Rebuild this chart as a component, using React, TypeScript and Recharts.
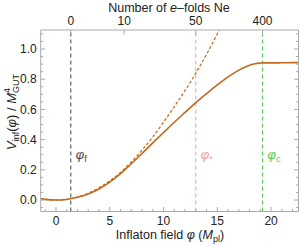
import { LineChart, Line, XAxis, YAxis, ReferenceLine, Label } from 'recharts'

const phiSolid = [-1.42, -1, 0, 1, 2, 3, 4, 5, 6, 7, 8, 9, 10, 11, 12, 13, 14, 15, 16, 17, 18, 18.5, 19, 19.2, 20, 21, 22, 22.55]
const vSolid = [0.008, 0.004, 0, 0.004, 0.018, 0.04, 0.073, 0.118, 0.175, 0.24, 0.308, 0.378, 0.447, 0.515, 0.58, 0.645, 0.705, 0.762, 0.815, 0.86, 0.893, 0.903, 0.907, 0.908, 0.908, 0.909, 0.91, 0.91]

const phiDashed = [-1.42, -1, 0, 1, 2, 3, 4, 5, 6, 7, 8, 9, 10, 11, 12, 13, 14, 15, 15.5]
const vDashed = [0.01, 0.005, 0, 0.005, 0.02, 0.045, 0.081, 0.127, 0.183, 0.252, 0.33, 0.418, 0.515, 0.618, 0.725, 0.84, 0.965, 1.1, 1.17]

const xTicks = [0, 5, 10, 15, 20]
const xMinorTicks = [-1, 1, 2, 3, 4, 6, 7, 8, 9, 11, 12, 13, 14, 16, 17, 18, 19, 21, 22]
const yTicks = [0, 0.2, 0.4, 0.6, 0.8, 1]
const yMinorTicks = [-0.05, 0.05, 0.1, 0.15, 0.25, 0.3, 0.35, 0.45, 0.5, 0.55, 0.65, 0.7, 0.75, 0.85, 0.9, 0.95, 1.05, 1.1]

// top axis: e-folds, placed at the field values they belong to
const efoldPhi = [1.38, 6.34, 13.0, 19.2]
const efoldLabels = ['0', '10', '50', '400']

const markerPhi = [1.38, 13.0, 19.2]
const markerSub = ['f', '*', 'c']
const markerColor = ['#444444', '#f29a9e', '#4cc94c']

const FONT = '"Liberation Sans", Arial, sans-serif'
const FRAME = '#aaaaaa'
const CURVE = '#c2691d'
const TEXT = '#222222'

const solidData = phiSolid.map((phi, i) => ({ phi, v: vSolid[i] }))
const dashedData = phiDashed.map((phi, i) => ({ phi, v: vDashed[i] }))

const X_DOMAIN = [-1.42, 22.55]
const Y_DOMAIN = [-0.076, 1.126]

function BottomTick(props: any) {
  const { x, y, payload } = props
  const major = xTicks.includes(payload.value)
  const axisY = y - 3
  return (
    <g>
      <line x1={x} x2={x} y1={axisY} y2={axisY - (major ? 4.5 : 2.5)} stroke={FRAME} />
      {major && (
        <text x={x} y={axisY + 13} textAnchor="middle" fontSize={12} fontFamily={FONT} fill={TEXT}>
          {payload.value}
        </text>
      )}
    </g>
  )
}

function TopTick(props: any) {
  const { x, y, payload } = props
  const axisY = y + 3
  const i = efoldPhi.indexOf(payload.value)
  return (
    <g>
      <line x1={x} x2={x} y1={axisY} y2={axisY + 4.5} stroke={FRAME} />
      <text x={x} y={axisY - 5} textAnchor="middle" fontSize={12} fontFamily={FONT} fill={TEXT}>
        {efoldLabels[i]}
      </text>
    </g>
  )
}

function LeftTick(props: any) {
  const { x, y, payload } = props
  const major = yTicks.includes(payload.value)
  const axisX = x + 4
  return (
    <g>
      <line x1={axisX} x2={axisX + (major ? 4.5 : 2.5)} y1={y} y2={y} stroke={FRAME} />
      {major && (
        <text x={axisX - 4} y={y} dy="0.35em" textAnchor="end" fontSize={12} fontFamily={FONT} fill={TEXT}>
          {payload.value.toFixed(1)}
        </text>
      )}
    </g>
  )
}

function RightTick(props: any) {
  const { x, y, payload } = props
  const major = yTicks.includes(payload.value)
  const axisX = x - 4
  return <line x1={axisX} x2={axisX - (major ? 4.5 : 2.5)} y1={y} y2={y} stroke={FRAME} />
}

const markerLabel = (i: number) => (props: any) => {
  const vb = props.viewBox
  return (
    <text x={vb.x + 5} y={vb.y + vb.height - 52.5} fontFamily={FONT} fill={markerColor[i]}>
      <tspan fontSize={13} fontStyle="italic">φ</tspan>
      <tspan fontSize={9} dy={3}>{markerSub[i]}</tspan>
    </text>
  )
}

export default function App() {
  return (
    <div style={{ position: 'absolute', left: 0, top: 0 }}>
      <LineChart width={300} height={245} margin={{ top: 0, right: 0, bottom: 0, left: 0 }}>
        <XAxis
          dataKey="phi"
          type="number"
          domain={X_DOMAIN}
          allowDataOverflow
          ticks={[...xTicks, ...xMinorTicks]}
          interval={0}
          tickSize={0}
          tickMargin={3}
          tick={BottomTick}
          tickLine={false}
          axisLine={{ stroke: FRAME }}
          height={33.5}
        >
          <Label
            content={() => (
              <text x={170} y={239} textAnchor="middle" fontSize={12.5} fontFamily={FONT} fill={TEXT}>
                Inflaton field <tspan fontStyle="italic">φ</tspan> (<tspan fontStyle="italic">M</tspan>
                <tspan fontSize={9} dy={3}>pl</tspan>
                <tspan dy={-3}>)</tspan>
              </text>
            )}
          />
        </XAxis>
        <XAxis
          xAxisId="top"
          orientation="top"
          dataKey="phi"
          type="number"
          domain={X_DOMAIN}
          allowDataOverflow
          ticks={efoldPhi}
          interval={0}
          tickSize={0}
          tickMargin={3}
          tick={TopTick}
          tickLine={false}
          axisLine={{ stroke: FRAME }}
          height={30}
        >
          <Label
            content={() => (
              <text x={169} y={11.5} textAnchor="middle" fontSize={12.5} fontFamily={FONT} fill={TEXT}>
                Number of <tspan fontStyle="italic">e</tspan>–folds Ne
              </text>
            )}
          />
        </XAxis>
        <YAxis
          type="number"
          domain={Y_DOMAIN}
          allowDataOverflow
          ticks={[...yTicks, ...yMinorTicks]}
          interval={0}
          tickSize={0}
          tickMargin={4}
          tick={LeftTick}
          tickLine={false}
          axisLine={{ stroke: FRAME }}
          width={40.7}
        >
          <Label
            content={() => (
              <text transform="rotate(-90)" x={-112} y={16} textAnchor="middle" fontSize={13} fontFamily={FONT} fill={TEXT}>
                <tspan fontStyle="italic">V</tspan>
                <tspan fontSize={9} dy={3}>inf</tspan>
                <tspan dy={-3}>(</tspan>
                <tspan fontStyle="italic">φ</tspan>
                <tspan>) / </tspan>
                <tspan fontStyle="italic">M</tspan>
                <tspan fontSize={9} dy={-6}>4</tspan>
                <tspan fontSize={9} dx={-5} dy={9}>GUT</tspan>
              </text>
            )}
          />
        </YAxis>
        <YAxis
          yAxisId="right"
          orientation="right"
          type="number"
          domain={Y_DOMAIN}
          allowDataOverflow
          ticks={[...yTicks, ...yMinorTicks]}
          interval={0}
          tickSize={0}
          tickMargin={4}
          tick={RightTick}
          tickLine={false}
          axisLine={{ stroke: FRAME }}
          width={1.5}
        />
        {markerPhi.map((p, i) => (
          <ReferenceLine
            key={i}
            x={p}
            stroke={markerColor[i]}
            strokeDasharray="4 3"
            strokeWidth={1}
            label={markerLabel(i)}
          />
        ))}
        <Line
          data={dashedData}
          dataKey="v"
          type="monotone"
          stroke={CURVE}
          strokeWidth={1.2}
          strokeDasharray="3 2"
          dot={false}
          isAnimationActive={false}
        />
        <Line
          data={solidData}
          dataKey="v"
          type="monotone"
          stroke={CURVE}
          strokeWidth={1.6}
          dot={false}
          isAnimationActive={false}
        />
      </LineChart>
    </div>
  )
}
